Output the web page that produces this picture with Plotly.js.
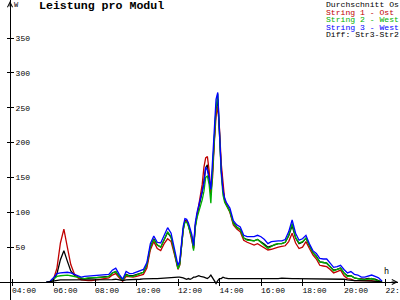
<!DOCTYPE html>
<html>
<head>
<meta charset="utf-8">
<script src="https://cdn.plot.ly/plotly-3.0.1.min.js"></script>
<style>html,body{margin:0;padding:0;background:#fff;}#chart{width:400px;height:300px;}</style>
</head>
<body>
<div id="chart"></div>
<script>
// ---- data ----
const times = [
 "05:40","05:50","06:00","06:10","06:20","06:30","06:40","06:50","07:00","07:10",
 "07:20","07:30","07:40","07:50","08:00","08:10","08:20","08:30","08:40","08:50",
 "09:00","09:10","09:20","09:30","09:40","09:50","10:00","10:10","10:20","10:30",
 "10:40","10:50","11:00","11:10","11:20","11:30","11:40","11:50","12:00",
 "12:05","12:10","12:15","12:20","12:25","12:30","12:35","12:40","12:45","12:50",
 "12:55","13:00","13:05","13:10","13:15","13:20","13:25","13:30","13:35","13:40",
 "13:45","13:50","13:55","14:00","14:05","14:10","14:15","14:20","14:25","14:30",
 "14:40","14:50","15:00","15:10","15:20","15:30","15:40","15:50","16:00","16:10",
 "16:20","16:30","16:40","16:50","17:00","17:10","17:20","17:30","17:40","17:50",
 "18:00","18:10","18:20","18:30","18:40","18:50","19:00","19:10","19:20","19:30",
 "19:40","19:50","20:00","20:10","20:20","20:30","20:40","20:50","21:00","21:10",
 "21:20","21:30","21:40","21:50"
];
const avgOst = [
 0,0,3,12,32,45,30,16,10,7, 5,5,5,5.5,6,6.5,7,7,8,13, 15,8,3,11,9,9,10.5,12,14,24, 50,62,53,50,61,71,64,43,20,
 26,50,76,88,88,82,73,64,48,81, 96,106,117,129,145,164,168,150,125,162, 210,248,262,210,162,132,117,111,107,102,
 85,79,75,63,61,60,59,61,58,54, 50,52,54,55,55,57,66,81,63,55, 57,63,52,42,37,29,28,27,22,17, 18,20,13,9,9,6,5,4,4,5, 5,4,2,0
];
const string1Ost = [
 0,0,4,20,56,76,50,25,12,6, 3,2,2,2,3,4,5,5,6,10, 12,6,1,8,7,7,8,9,11,20, 46,58,48,45,55,62,58,39,18,
 24,47,75,87,88,82,72,62,48,80, 95,108,122,140,165,178,180,160,128,150, 200,238,252,220,170,140,118,110,106,100,
 82,76,72,60,57,55,53,55,52,48, 46,47,49,50,51,52,58,70,56,48, 50,58,48,39,33,24,23,22,18,13, 15,17,9,5,4,2,2,2,3,3, 2,1,0,0
];
const string2West = [
 0,0.5,4,8,9,10,10,9,8,6, 5,5,6,6,6.5,7,7,7,8,13, 15,8,3,10,8,8,10,11.5,14,25, 50,61,53,50,61,72,65,42,19,
 25,48,74,86,86,80,72,63,45,78, 92,100,110,118,130,150,152,140,113,160, 210,250,270,200,155,125,114,110,105,101,
 84,78,75,63,60,60,59,61,57,52, 48,51,54,55,55,57,67,84,64,56, 58,63,52,42,36,29,28,27,22,16, 18,20,13,8,9,6,5,3,3,4, 5,3,1.5,0
];
const string3West = [
 0,1,6,12,13,14,14,13,11,9, 7,8,8.5,9,9,9.5,10,10,11,17, 20,11,4,15,12,12.5,14,16,18,28, 55,66,57,56,67,78,70,48,24,
 30,55,80,91,90,85,76,68,52,85, 100,112,120,130,142,165,160,150,133,175, 220,262,272,205,160,132,120,114,110,106,
 88,82,79,67,65,65,65,67,65,61, 55,58,59,59,59,61,72,89,70,60, 62,67,55,45,41,34,33,33,27,21, 22,24,18,13,15,11,10,7,7,9, 10,8,6,1
];
const diffStr3Str2 = [
 0,1,2,3,3,3,3,3,3,3, 2.5,2.5,2.5,2.5,3,3,3,3,3,3.5, 4,3,2,3,3,3,3.5,4,4.5,5, 5,5,5,5.5,6,6,6,6.5,7,
 7,7,6,5,4,5,4,5,7,7, 8,9,8,8,7,6,5,7,10,6, 1,-2,2,5,5,7,6,5,5,5,
 5,5,5,4.5,5,5,5,5,4,4.5, 5,5,5,5,5.5,5,5,5,5,5, 5,5,5,5,4.5,4.5,4.5,4.5,4.5,4.5, 4.5,4.5,4,3,2,2,2,2,2,2, 2,1.5,1,0
];
const seriesNames = ["Durchschnitt Os", "String 1 - Ost", "String 2 - West", "String 3 - West", "Diff: Str3-Str2"];
const seriesColors = ["#000000", "#c00000", "#00b000", "#0000ff", "#000000"];
const yTickVals = [50, 100, 150, 200, 250, 300, 350];
const xTickLabels = ["04:00", "06:00", "08:00", "10:00", "12:00", "14:00", "16:00", "18:00", "20:00", "22:00"];
const titleText = "Leistung pro Modul";

// ---- chart ----
const day = "2024-01-01 ";
const xs = times.map(t => day + t);
const xTickVals = xTickLabels.map(t => day + t);
const seriesData = [avgOst, string1Ost, string2West, string3West, diffStr3Str2];
const mono = "Liberation Mono, DejaVu Sans Mono, monospace";

const traces = seriesData.map((vals, i) => ({
  type: "scatter", mode: "lines", x: xs, y: vals, name: seriesNames[i],
  line: {color: seriesColors[i], width: 1.3}, hoverinfo: "skip", showlegend: false
}));
traces.push({type: "scatter", mode: "lines", x: [], y: [], xaxis: "x2", yaxis: "y", showlegend: false});
traces.push({type: "scatter", mode: "lines", x: [], y: [], xaxis: "x", yaxis: "y2", showlegend: false});

const xRange = [day + "03:25:18", day + "22:36:08"];
const yRange = [-25.8, 404.6];
const xPos = 0.06, yPos = 0.02513;

const legendAnn = seriesNames.map((n, i) => ({
  text: n, xref: "paper", yref: "paper", x: 325 / 398, xanchor: "left",
  y: 1 - (4.7 + i * 7.55) / 300, yanchor: "middle", showarrow: false, borderpad: 0,
  font: {family: mono, size: 8.1, color: seriesColors[i]}
}));

const layout = {
  width: 400, height: 300,
  margin: {l: 0, r: 2, t: 0, b: 0, pad: 0},
  paper_bgcolor: "#fff", plot_bgcolor: "#fff",
  showlegend: false, hovermode: false,
  title: {text: "<b>" + titleText + "</b>", x: 39 / 400, xanchor: "left", xref: "container",
          y: 1 - 1 / 300, yanchor: "top", yref: "container",
          font: {family: mono, size: 11.6, color: "#000"}},
  xaxis: {type: "date", range: xRange, anchor: "free", position: xPos, side: "bottom",
          showline: true, linecolor: "#000", linewidth: 1, showgrid: false, zeroline: false,
          ticks: "outside", ticklen: 3, tickcolor: "#000", tickwidth: 1,
          tickmode: "array", tickvals: xTickVals, ticktext: xTickLabels,
          ticklabelshift: 12, ticklabeloverflow: "allow", ticklabelstandoff: -3,
          tickfont: {family: mono, size: 8, color: "#000"}},
  xaxis2: {type: "date", range: xRange, overlaying: "x", anchor: "free", position: xPos, side: "bottom",
          showline: false, showgrid: false, zeroline: false, showticklabels: false,
          ticks: "inside", ticklen: 3, tickcolor: "#000", tickwidth: 1,
          tickmode: "array", tickvals: xTickVals},
  yaxis: {range: yRange, anchor: "free", position: yPos, side: "right",
          showline: true, linecolor: "#000", linewidth: 1, showgrid: false, zeroline: false,
          ticks: "outside", ticklen: 3, tickcolor: "#000", tickwidth: 1,
          tickmode: "array", tickvals: yTickVals, ticklabeloverflow: "allow",
          tickfont: {family: mono, size: 8, color: "#000"}},
  yaxis2: {range: yRange, overlaying: "y", anchor: "free", position: yPos, side: "left",
          showline: false, showgrid: false, zeroline: false, showticklabels: false,
          ticks: "outside", ticklen: 3, tickcolor: "#000", tickwidth: 1,
          tickmode: "array", tickvals: yTickVals},
  annotations: legendAnn.concat([
    {text: "W", xref: "paper", yref: "paper", x: 16.5 / 398, y: 1 - 5 / 300, xanchor: "center", yanchor: "middle",
     showarrow: false, font: {family: mono, size: 7, color: "#000"}},
    {text: "h", xref: "paper", yref: "paper", x: 386.5 / 398, y: 1 - 272 / 300, xanchor: "center", yanchor: "middle",
     showarrow: false, font: {family: mono, size: 8.5, color: "#000"}},
    {text: "", xref: "paper", yref: "paper", x: 1, y: xPos, ax: -8, ay: 0, axref: "pixel", ayref: "pixel",
     showarrow: true, arrowhead: 5, arrowsize: 1, arrowwidth: 1, arrowcolor: "#000"},
    {text: "", xref: "paper", yref: "paper", x: yPos, y: 1, ax: 0, ay: 8, axref: "pixel", ayref: "pixel",
     showarrow: true, arrowhead: 5, arrowsize: 1, arrowwidth: 1, arrowcolor: "#000"}
  ])
};

Plotly.newPlot("chart", traces, layout, {staticPlot: true, displayModeBar: false});
</script>
</body>
</html>
